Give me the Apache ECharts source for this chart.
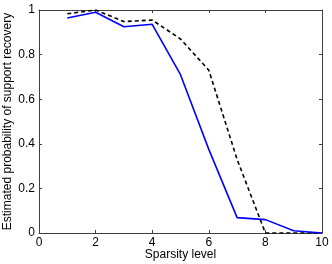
<!DOCTYPE html>
<html><head><meta charset="utf-8">
<script src="https://cdn.jsdelivr.net/npm/echarts@6/dist/echarts.min.js"></script>
<style>html,body{margin:0;padding:0;background:#fff}#c{width:332px;height:264px}</style>
</head><body><div id="c"></div>
<script>
var sparsity = [1, 2, 3, 4, 5, 6, 7, 8, 9, 10];
var solid = [0.964, 0.99, 0.925, 0.936, 0.71, 0.375, 0.069, 0.06, 0.01, 0.0];
var dashed = [0.983, 1.0, 0.948, 0.955, 0.87, 0.73, 0.33, 0.0, 0.0, 0.0];
var xTicks = [0, 2, 4, 6, 8, 10];
var yTicks = [0, 0.2, 0.4, 0.6, 0.8, 1];

var font = 'Liberation Sans, Arial, sans-serif';
var axisColor = '#404040';
function pairs(xs, ys){ return xs.map(function(x,i){return [x, ys[i]];}); }
var chart = echarts.init(document.getElementById('c'), null, {renderer:'canvas'});
function baseX(){ return {type:'value', min:0, max:10, interval:2,
  axisLine:{show:true, onZero:false, lineStyle:{color:axisColor, width:1}},
  axisTick:{show:true, inside:true, length:3, lineStyle:{color:axisColor}},
  splitLine:{show:false}}; }
function baseY(){ return {type:'value', min:0, max:1, interval:0.2,
  axisLine:{show:true, onZero:false, lineStyle:{color:axisColor, width:1}},
  axisTick:{show:true, inside:true, length:3, lineStyle:{color:axisColor}},
  splitLine:{show:false}}; }
chart.setOption({
  animation:false,
  grid:{left:39, right:10, top:10, bottom:31, containLabel:false, outerBoundsMode:'none'},
  xAxis:[
    Object.assign(baseX(), {position:'bottom', name:'Sparsity level', nameLocation:'middle', nameGap:16,
      nameMoveOverlap:false,
      nameTextStyle:{fontFamily:font, fontSize:12, color:'#000'},
      axisLabel:{show:true, margin:4, fontFamily:font, fontSize:12, color:'#000',
        formatter:function(v){return xTicks.indexOf(v)>=0 ? String(v) : '';}}}),
    Object.assign(baseX(), {position:'top', axisLabel:{show:false}})
  ],
  yAxis:[
    Object.assign(baseY(), {position:'left', name:'Estimated probability of support recovery', nameLocation:'middle', nameGap:25,
      nameMoveOverlap:false,
      nameTextStyle:{fontFamily:font, fontSize:12, color:'#000'},
      axisLabel:{show:true, margin:4, fontFamily:font, fontSize:12, color:'#000',
        formatter:function(v){var r=Math.round(v*10)/10; return yTicks.indexOf(r)>=0 ? String(r) : '';}}}),
    Object.assign(baseY(), {position:'right', axisLabel:{show:false}})
  ],
  series:[
    {type:'line', data:pairs(sparsity, dashed), xAxisIndex:0, yAxisIndex:0, symbol:'none',
      lineStyle:{color:'#000', width:1.6, type:[4,3]}},
    {type:'line', data:pairs(sparsity, solid), xAxisIndex:0, yAxisIndex:0, symbol:'none',
      lineStyle:{color:'#0000ff', width:1.6}}
  ]
});
</script></body></html>
